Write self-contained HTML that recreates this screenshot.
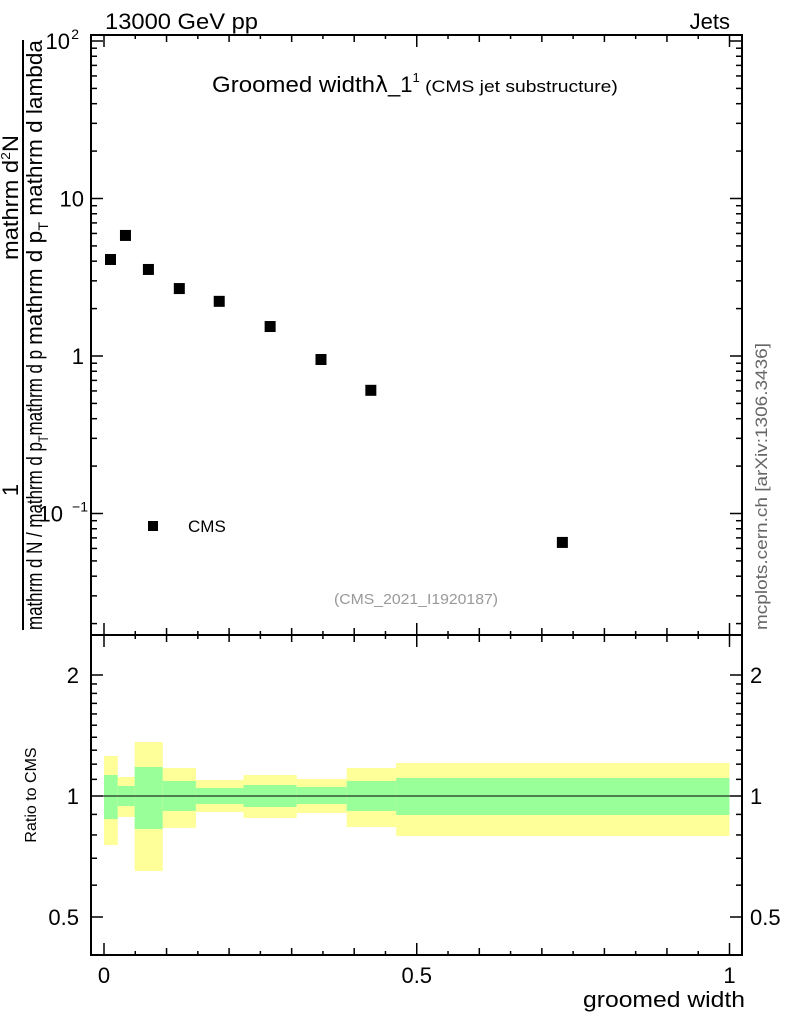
<!DOCTYPE html>
<html><head><meta charset="utf-8"><style>
body{margin:0;background:#fff}
svg{display:block;font-family:"Liberation Sans",sans-serif}
</style></head><body>
<svg id="c" width="786" height="1024" viewBox="0 0 786 1024" xmlns="http://www.w3.org/2000/svg">
<g id="bands"></g>
<g id="axes"></g>
<g id="pts"></g>
<text x="105" y="29" font-size="22" textLength="153" lengthAdjust="spacingAndGlyphs">13000 GeV pp</text>
<text x="730" y="29" font-size="22" text-anchor="end">Jets</text>
<text x="212" y="92" font-size="22"><tspan textLength="163" lengthAdjust="spacingAndGlyphs">Groomed width</tspan><tspan font-family="'DejaVu Sans',sans-serif">λ</tspan>_1<tspan font-size="13" dy="-10">1</tspan><tspan font-size="17" dy="10" textLength="198" lengthAdjust="spacingAndGlyphs"> (CMS jet substructure)</tspan></text>
<text x="416" y="604" font-size="15" fill="#999" text-anchor="middle" textLength="164" lengthAdjust="spacingAndGlyphs">(CMS_2021_I1920187)</text>
<text transform="translate(767,630) rotate(-90)" font-size="17" fill="#666" textLength="287" lengthAdjust="spacingAndGlyphs">mcplots.cern.ch [arXiv:1306.3436]</text>
<rect x="148" y="521" width="10" height="10" fill="#000"/>
<text x="188" y="532" font-size="17">CMS</text>
<g font-size="22">
<text transform="translate(18,490) rotate(-90)" text-anchor="middle">1</text>
<text transform="translate(42,630) rotate(-90)" textLength="280" lengthAdjust="spacingAndGlyphs">mathrm d N / mathrm d p<tspan font-size="14" dy="6">T</tspan><tspan dy="-6">mathrm d p</tspan></text>
<text transform="translate(18,260) rotate(-90)" textLength="125" lengthAdjust="spacingAndGlyphs">mathrm d<tspan font-size="13" dy="-8">2</tspan><tspan dy="8">N</tspan></text>
<text transform="translate(42,345) rotate(-90)" textLength="305" lengthAdjust="spacingAndGlyphs">mathrm d p<tspan font-size="14" dy="6">T</tspan><tspan dy="-6"> mathrm d lambda</tspan></text>
<line x1="23" y1="40" x2="23" y2="630" stroke="#000" stroke-width="2"/>
</g>
<text transform="translate(36,795) rotate(-90)" font-size="16" text-anchor="middle">Ratio to CMS</text>
<text x="745" y="1007" font-size="22" text-anchor="end" textLength="162" lengthAdjust="spacingAndGlyphs">groomed width</text>
</svg>
<script>
const edges=[0,0.022,0.049,0.094,0.147,0.223,0.308,0.388,0.467,1.0];
const xvals=[0.0096,0.0335,0.0702,0.1196,0.1834,0.2648,0.3461,0.4258,0.732];
const yvals=[4.13,5.87,3.57,2.7,2.24,1.55,0.957,0.61,0.066];
const yelHi=[1.258,1.115,1.362,1.174,1.096,1.128,1.102,1.174,1.208];
const yelLo=[0.755,0.887,0.651,0.833,0.912,0.882,0.907,0.837,0.795];
const grnHi=[1.128,1.059,1.181,1.09,1.047,1.065,1.053,1.09,1.109];
const grnLo=[0.876,0.944,0.828,0.918,0.955,0.939,0.955,0.918,0.897];
const xTickLabels=["0","0.5","1"];
const ns="http://www.w3.org/2000/svg";
const L=91,R=742,T=35,M=635,B=955;
const X=v=>104+625.5*v;
const Y=v=>356-157.5*Math.log10(v);
const RY=v=>796-121*Math.log2(v);
function mk(p,tag,at){const e=document.createElementNS(ns,tag);for(const k in at)e.setAttribute(k,at[k]);p.appendChild(e);return e;}
const bands=document.getElementById('bands'),axes=document.getElementById('axes'),pts=document.getElementById('pts');
for(let i=0;i<yelHi.length;i++){
 const x0=X(edges[i]),x1=X(edges[i+1]);
 const y=mk(bands,'rect',{x:x0,y:RY(yelHi[i]),width:x1-x0,height:RY(yelLo[i])-RY(yelHi[i]),fill:'#ffff99'});
 
 
 const g=mk(bands,'rect',{x:x0,y:RY(grnHi[i]),width:x1-x0,height:RY(grnLo[i])-RY(grnHi[i]),fill:'#99ff99'});
 
 
}
mk(axes,'line',{x1:L,y1:RY(1),x2:R,y2:RY(1),stroke:'#000','stroke-width':1});
mk(axes,'rect',{x:L,y:T,width:R-L,height:M-T,fill:'none',stroke:'#000','stroke-width':2});
mk(axes,'rect',{x:L,y:M,width:R-L,height:B-M,fill:'none',stroke:'#000','stroke-width':2});
for(let k=0;k<=20;k++){const v=k*0.05,x=X(v);const len=k%10==0?12:(k%2==0?7:4);
 for(const [y0,d] of [[B,-1],[M,-1],[M,1],[T,1]]) mk(axes,'line',{x1:x,y1:y0,x2:x,y2:y0+d*len,stroke:'#000','stroke-width':1.5});}
xTickLabels.forEach((s,i)=>{const t=mk(axes,'text',{x:X(i*0.5),y:983,'font-size':22,'text-anchor':'middle'});t.textContent=s;});
for(let e=-2;e<=2;e++)for(let m=1;m<10;m++){const v=m*Math.pow(10,e),y=Y(v);if(y<T||y>M)continue;const len=m==1?12:6;
 mk(axes,'line',{x1:L,y1:y,x2:L+len,y2:y,stroke:'#000','stroke-width':1.5});
 mk(axes,'line',{x1:R,y1:y,x2:R-len,y2:y,stroke:'#000','stroke-width':1.5});}
[[100,"10","2"],[10,"10",""],[1,"1",""],[0.1,"10","−1"]].forEach(([v,b,s])=>{const t=mk(axes,'text',{x:s?(s.length>1?63:70):84,y:Y(v)+8,'font-size':22,'text-anchor':'end'});t.textContent=b;
 if(s){const u=mk(axes,'text',{x:s.length>1?88:79,y:Y(v)-2,'font-size':14,'text-anchor':'end'});u.textContent=s;}});
const rt=[0.3,0.4,0.5,0.6,0.7,0.8,0.9,1,1.1,1.2,1.3,1.4,1.5,1.6,1.7,1.8,1.9,2,3];
rt.forEach(v=>{const y=RY(v);if(y<M||y>B)return;const len=(v==0.5||v==1||v==2)?12:6;
 mk(axes,'line',{x1:L,y1:y,x2:L+len,y2:y,stroke:'#000','stroke-width':1.5});
 mk(axes,'line',{x1:R,y1:y,x2:R-len,y2:y,stroke:'#000','stroke-width':1.5});});
[[2,"2"],[1,"1"],[0.5,"0.5"]].forEach(([v,s])=>{
 const a=mk(axes,'text',{x:79,y:RY(v)+8,'font-size':22,'text-anchor':'end'});a.textContent=s;
 const b=mk(axes,'text',{x:750,y:RY(v)+8,'font-size':22});b.textContent=s;});
xvals.forEach((xv,i)=>{const r=mk(pts,'rect',{x:X(xv)-5,y:Y(yvals[i])-5,width:11,height:11,fill:'#000'});
 
 });
</script>
</body></html>
